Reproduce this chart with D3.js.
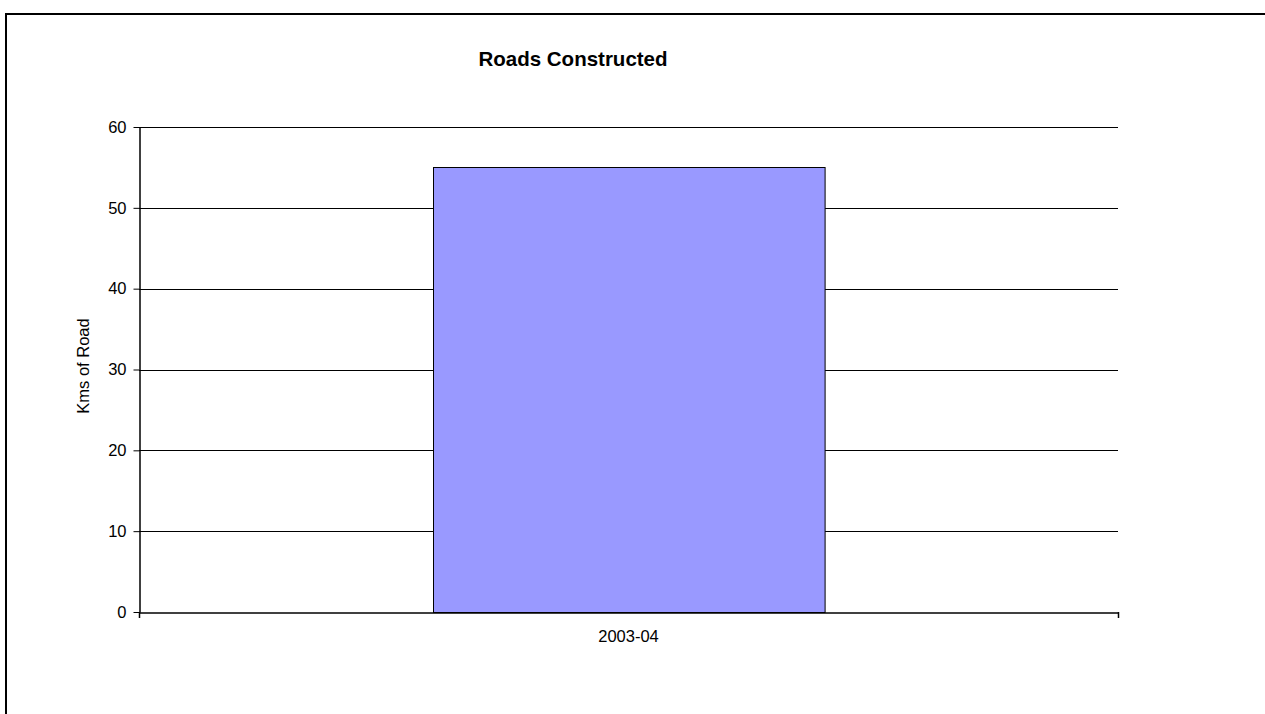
<!DOCTYPE html>
<html>
<head>
<meta charset="utf-8">
<script src="https://cdn.jsdelivr.net/npm/d3@7"></script>
<style>
  html, body { margin: 0; padding: 0; background: #fff; }
  svg { display: block; font-family: "Liberation Sans", Arial, sans-serif; }
</style>
</head>
<body>
<svg id="chart" width="1265" height="714"></svg>
<script>
// Chart data
const categories = ["2003-04"];
const roadKms = [55];
const yTicks = [0, 10, 20, 30, 40, 50, 60];
const chartTitle = "Roads Constructed";
const yAxisTitle = "Kms of Road";

const svg = d3.select("#chart");

// Frame lines along top and left edge
svg.append("line").attr("x1", 5).attr("x2", 1265).attr("y1", 14).attr("y2", 14)
  .attr("stroke", "#000").attr("stroke-width", 2);
svg.append("line").attr("x1", 6).attr("x2", 6).attr("y1", 13).attr("y2", 714)
  .attr("stroke", "#000").attr("stroke-width", 2);

const plot = { left: 139, right: 1118, top: 127, bottom: 612 };

const x = d3.scaleBand()
  .domain(categories)
  .range([plot.left, plot.right])
  .paddingInner(0.6)
  .paddingOuter(0.3);

const y = d3.scaleLinear()
  .domain([0, 60])
  .range([plot.bottom, plot.top]);

// Horizontal gridlines
svg.append("g")
  .selectAll("line")
  .data(yTicks.filter(d => d > 0))
  .join("line")
  .attr("x1", plot.left).attr("x2", plot.right)
  .attr("y1", d => Math.round(y(d)) + 0.5).attr("y2", d => Math.round(y(d)) + 0.5)
  .attr("stroke", "#000").attr("stroke-width", 1);

// Bars
svg.append("g")
  .selectAll("rect")
  .data(categories.map((c, i) => ({ c, v: roadKms[i] })))
  .join("rect")
  .attr("x", d => Math.round(x(d.c)) + 0.5)
  .attr("y", d => Math.round(y(d.v)) + 0.5)
  .attr("width", x.bandwidth())
  .attr("height", d => y(0) - Math.round(y(d.v)))
  .attr("fill", "#9999FF")
  .attr("stroke", "#000")
  .attr("stroke-width", 1);

// Y axis
const yAxis = svg.append("g")
  .attr("transform", `translate(${plot.left + 0.5},0)`)
  .call(d3.axisLeft(y).tickValues(yTicks).tickSize(6).tickPadding(7).tickSizeOuter(0));
yAxis.select(".domain").attr("stroke", "#000").attr("stroke-width", 1.5);
yAxis.selectAll(".tick line").attr("stroke", "#000");
yAxis.selectAll(".tick text")
  .attr("font-size", "16.5px").attr("fill", "#000")
  .attr("font-family", "Liberation Sans, Arial, sans-serif");

// X axis
const xAxis = svg.append("g")
  .attr("transform", `translate(0,${plot.bottom + 0.5})`)
  .call(d3.axisBottom(x).tickSize(0).tickPadding(18).tickSizeOuter(0));
xAxis.select(".domain").attr("stroke", "#000").attr("stroke-width", 1.5);
xAxis.selectAll(".tick text")
  .attr("font-size", "16.5px").attr("fill", "#000")
  .attr("font-family", "Liberation Sans, Arial, sans-serif");

// Category boundary ticks at both ends of the x axis
svg.append("g")
  .selectAll("line")
  .data([plot.left, plot.right])
  .join("line")
  .attr("x1", d => d + 0.5).attr("x2", d => d + 0.5)
  .attr("y1", plot.bottom).attr("y2", plot.bottom + 6)
  .attr("stroke", "#000").attr("stroke-width", 1.5);

// Chart title
svg.append("text")
  .attr("x", 573).attr("y", 66)
  .attr("text-anchor", "middle")
  .attr("font-size", "20.5px").attr("font-weight", "bold")
  .attr("fill", "#000")
  .text(chartTitle);

// Y axis title
svg.append("text")
  .attr("transform", "translate(89,366) rotate(-90)")
  .attr("text-anchor", "middle")
  .attr("font-size", "16.5px")
  .attr("fill", "#000")
  .text(yAxisTitle);
</script>
</body>
</html>
